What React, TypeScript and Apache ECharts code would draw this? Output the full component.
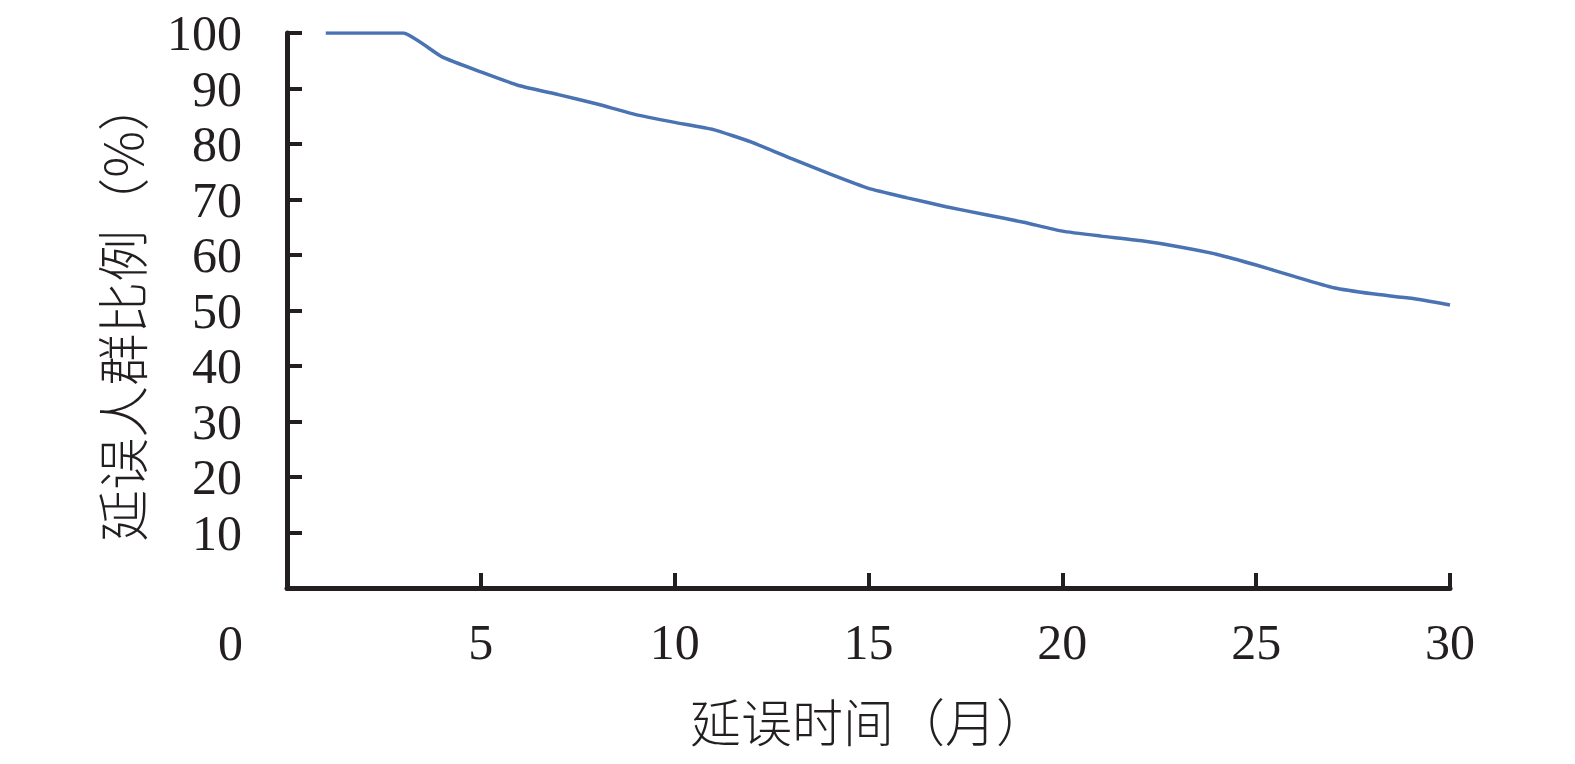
import React, { useEffect, useRef } from "react";
import * as echarts from "echarts";

const months = [1, 2, 3, 4, 5, 6, 7, 8, 9, 10, 11, 12, 13, 14, 15, 16, 17, 18, 19, 20, 21, 22, 23, 24, 25, 26, 27, 28, 29, 30];
const delayedShare = [100, 100, 100, 95.7, 93.0, 90.5, 88.9, 87.2, 85.3, 83.9, 82.6, 80.3, 77.4, 74.6, 72.0, 70.3, 68.7, 67.3, 65.9, 64.3, 63.4, 62.6, 61.5, 60.1, 58.2, 56.1, 54.1, 53.0, 52.2, 51.0];
const xTitle = "延误时间（月）";
const yTitle = "延误人群比例（%）";
const originLabel = "0";

const SERIF = "'Liberation Serif', 'Times New Roman', serif";
const CJK = "'Noto Sans CJK SC', sans-serif";
const AXIS_COLOR = "#231f20";

export default function App() {
  const ref = useRef<HTMLDivElement>(null);
  useEffect(() => {
    if (!ref.current) return;
    const chart = echarts.init(ref.current, undefined, { renderer: "svg" });
    chart.setOption({
      animation: false,
      backgroundColor: "#ffffff",
      grid: { left: 287, right: 125, top: 33, bottom: 176, containLabel: false },
      xAxis: {
        type: "value",
        min: 0,
        max: 30,
        interval: 5,
        name: xTitle,
        nameLocation: "middle",
        nameGap: 106,
        nameTextStyle: { fontFamily: CJK, fontSize: 51, color: AXIS_COLOR, fontWeight: 300 },
        axisLine: { show: true, onZero: false, lineStyle: { color: AXIS_COLOR, width: 5 } },
        axisTick: { show: true, inside: true, length: 15, lineStyle: { color: AXIS_COLOR, width: 4 } },
        axisLabel: {
          margin: 29,
          fontFamily: SERIF,
          fontSize: 50,
          color: AXIS_COLOR,
          formatter: (v: number) => (v === 0 ? "" : String(v)),
        },
        splitLine: { show: false },
      },
      yAxis: {
        type: "value",
        min: 0,
        max: 100,
        interval: 10,
        name: yTitle,
        nameLocation: "middle",
        nameRotate: 90,
        nameGap: 141,
        nameTextStyle: { fontFamily: CJK, fontSize: 52, color: AXIS_COLOR, fontWeight: 300 },
        axisLine: { show: true, lineStyle: { color: AXIS_COLOR, width: 5 } },
        axisTick: { show: true, inside: true, length: 15, lineStyle: { color: AXIS_COLOR, width: 4 } },
        axisLabel: {
          margin: 45,
          fontFamily: SERIF,
          fontSize: 50,
          color: AXIS_COLOR,
          formatter: (v: number) => (v === 0 ? "" : String(v)),
        },
        splitLine: { show: false },
      },
      graphic: [
        {
          type: "text",
          left: 218,
          top: 618,
          style: { text: originLabel, font: `50px ${SERIF}`, fill: AXIS_COLOR },
        },
      ],
      series: [
        {
          type: "line",
          data: months.map((m, i) => [m, delayedShare[i]]),
          showSymbol: false,
          smooth: 0.15,
          lineStyle: { color: "#4a73b3", width: 3.5 },
        },
      ],
    });
    return () => chart.dispose();
  }, []);
  return (
    <div
      ref={ref}
      style={{ position: "fixed", left: 0, top: 0, width: 1575, height: 764 }}
    />
  );
}
